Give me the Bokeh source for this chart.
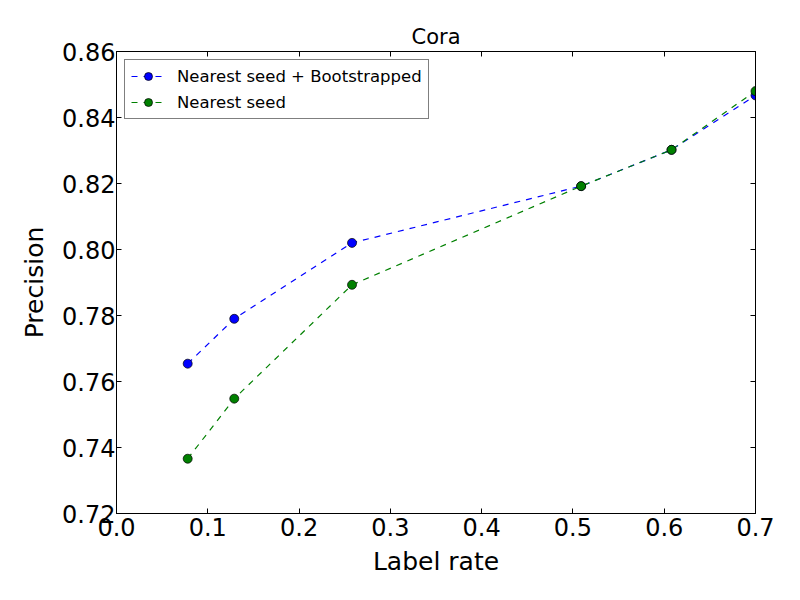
from bokeh.plotting import figure
from bokeh.models import Range1d, FixedTicker, LinearAxis, Legend, LegendItem, NumeralTickFormatter
from bokeh.embed import file_html
from bokeh.resources import INLINE

# ---- data ----
label_rate = [0.078, 0.129, 0.258, 0.509, 0.608, 0.700]
prec_bootstrapped = [0.7654, 0.7790, 0.8020, 0.8192, 0.8302, 0.8467]
prec_nearest = [0.7366, 0.7548, 0.7893, 0.8192, 0.8302, 0.8480]
series_names = ["Nearest seed + Bootstrapped", "Nearest seed"]
x_ticks = [0.0, 0.1, 0.2, 0.3, 0.4, 0.5, 0.6, 0.7]
x_tick_labels = ["0.0", "0.1", "0.2", "0.3", "0.4", "0.5", "0.6", "0.7"]
y_ticks = [0.72, 0.74, 0.76, 0.78, 0.80, 0.82, 0.84, 0.86]
y_tick_labels = ["0.72", "0.74", "0.76", "0.78", "0.80", "0.82", "0.84", "0.86"]

FONT = "DejaVu Sans"
BLUE = "#0000ff"
GREEN = "#008000"

p = figure(width=784, height=584, output_backend="svg", toolbar_location=None,
           x_range=Range1d(0, 0.7), y_range=Range1d(0.72, 0.86),
           min_border_left=116, min_border_right=29, min_border_top=51,
           min_border_bottom=71, title="Cora")

p.background_fill_color = "white"
p.border_fill_color = "white"
p.outline_line_color = "black"
p.outline_line_width = 1
p.grid.visible = False

p.title.text = "Cora"
p.title.text_font = FONT
p.title.text_font_size = "21px"
p.title.text_font_style = "normal"
p.title.align = "center"
p.title.text_color = "black"
p.title.standoff = 5


def style_axis(ax, ticks, labels, show_labels):
    ax.ticker = FixedTicker(ticks=ticks)
    ax.major_tick_in = 5
    ax.major_tick_out = 0
    ax.minor_tick_in = 0
    ax.minor_tick_out = 0
    ax.major_tick_line_color = "black"
    ax.axis_line_color = "black"
    ax.major_label_text_font = FONT
    if show_labels:
        ax.major_label_overrides = dict(zip(ticks, labels))
        ax.major_label_text_color = "black"
        ax.major_label_text_font_size = "24px"
        ax.axis_label_text_font = FONT
        ax.axis_label_text_font_size = "25px"
        ax.axis_label_text_font_style = "normal"
        ax.axis_label_text_color = "black"
    else:
        ax.major_label_text_color = None
        ax.major_label_text_font_size = "0px"
        ax.major_label_standoff = 0


xa = p.xaxis[0]
ya = p.yaxis[0]
xa.formatter = NumeralTickFormatter(format="0.0")
ya.formatter = NumeralTickFormatter(format="0.00")
style_axis(xa, x_ticks, x_tick_labels, True)
style_axis(ya, y_ticks, y_tick_labels, True)
xa.major_label_standoff = 4
ya.major_label_standoff = 1
xa.axis_label = "Label rate"
ya.axis_label = "Precision"
xa.axis_label_standoff = 8
ya.axis_label_standoff = 10

top_ax = LinearAxis()
right_ax = LinearAxis()
style_axis(top_ax, x_ticks, x_tick_labels, False)
style_axis(right_ax, y_ticks, y_tick_labels, False)
p.add_layout(top_ax, "above")
p.add_layout(right_ax, "right")

l1 = p.line(label_rate, prec_bootstrapped, line_color=BLUE, line_width=1.2, line_dash="6 6")
s1 = p.scatter(label_rate, prec_bootstrapped, marker="circle", size=9,
               fill_color=BLUE, line_color="black", line_width=0.7)
l2 = p.line(label_rate, prec_nearest, line_color=GREEN, line_width=1.2, line_dash="6 6")
s2 = p.scatter(label_rate, prec_nearest, marker="circle", size=9,
               fill_color=GREEN, line_color="black", line_width=0.7)

legend = Legend(items=[LegendItem(label=series_names[0], renderers=[l1, s1]),
                       LegendItem(label=series_names[1], renderers=[l2, s2])],
                location="top_left")
legend.margin = 8
legend.padding = 6
legend.spacing = 6
legend.glyph_width = 34
legend.glyph_height = 20
legend.label_standoff = 12
legend.label_text_font = FONT
legend.label_text_font_size = "16.5px"
legend.label_text_color = "black"
legend.border_line_color = "black"
legend.border_line_width = 1
legend.background_fill_color = "white"
legend.background_fill_alpha = 1.0
p.add_layout(legend)

open("out.html", "w").write(file_html(p, INLINE))
